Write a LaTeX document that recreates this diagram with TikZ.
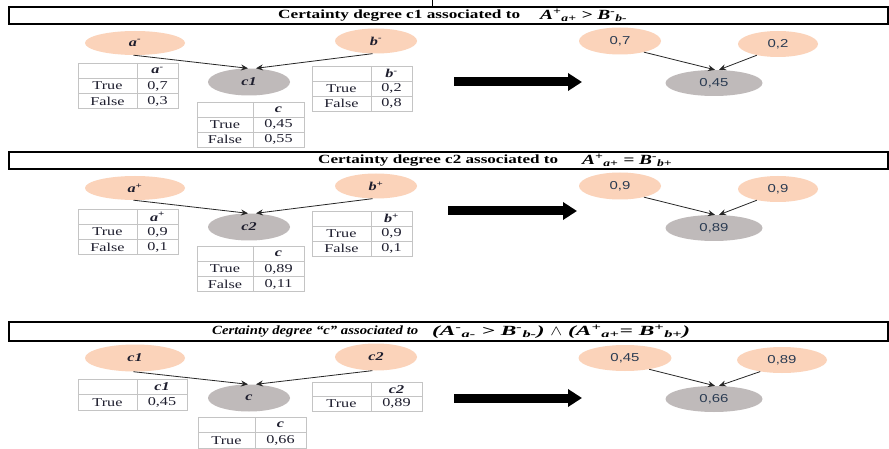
\documentclass[tikz,border=0pt]{standalone}
\usepackage{graphicx}
\usepackage{fontspec}
\setmainfont{Liberation Serif}[FakeStretch=1.35]
\newfontfamily\numfont{Liberation Sans}[FakeStretch=1.3]
\usetikzlibrary{shapes.geometric,arrows.meta}
\definecolor{peach}{HTML}{FBD3BA}
\definecolor{greyn}{HTML}{BFBABA}
\definecolor{tabgray}{HTML}{C4C4C4}
\definecolor{txtblue}{HTML}{2A3B52}
\definecolor{lbl}{HTML}{1E1E2E}
\tikzset{
  pe/.style={ellipse, fill=peach, inner sep=0pt, text=lbl,
    font=\fontsize{12}{14}\selectfont\bfseries\itshape},
  ge/.style={ellipse, fill=greyn, inner sep=0pt, text=lbl,
    font=\fontsize{12}{14}\selectfont\bfseries\itshape},
  pn/.style={ellipse, fill=peach, inner sep=0pt, text=txtblue,
    font=\fontsize{11.5}{13}\selectfont\numfont},
  gn/.style={ellipse, fill=greyn, inner sep=0pt, text=txtblue,
    font=\fontsize{11.5}{13}\selectfont\numfont},
  tabline/.style={draw=tabgray, line width=0.9pt},
  tx/.style={inner sep=0pt, text=lbl, font=\fontsize{12}{14}\selectfont},
  hd/.style={inner sep=0pt, text=lbl, font=\fontsize{12}{14}\selectfont\bfseries\itshape},
  arr/.style={draw=black!85, line width=0.8pt, -{Stealth[length=7pt,width=6pt]}},
  bigarr/.style={draw=black, line width=9pt, -{Triangle[length=14pt,width=17pt]}},
  titlebox/.style={draw=black, line width=1.1pt},
  ttlshadow/.style={draw=black!55, line width=1.2pt},
  ttl/.style={inner sep=0pt, anchor=west, text=black, font=\fontsize{12.5}{14}\selectfont\bfseries},
  ttli/.style={ttl, font=\fontsize{12.5}{14}\selectfont\bfseries\itshape},
  fml/.style={ttl, font=\fontsize{14}{16}\selectfont\bfseries\itshape},
}
% table: #1 name, #2 x0, #3 xm, #4 x1, #5 y0, #6 row height, #7 header, #8 true value, #9 false value (empty = none)
\newcommand\cpt[9]{%
  \def\ny{3}\if\relax\detokenize{#9}\relax\def\ny{2}\fi
  \draw[tabline] (#2,#5) rectangle (#4,{#5+\ny*#6});
  \draw[tabline] (#3,#5) -- (#3,{#5+\ny*#6});
  \draw[tabline] (#2,{#5+#6}) -- (#4,{#5+#6});
  \node[hd] (#1h) at ({(#3+#4)/2},{#5+#6/2}) {#7};
  \node[tx] (#1t) at ({(#2+#3)/2},{#5+1.5*#6}) {True};
  \node[tx] (#1tv) at ({(#3+#4)/2},{#5+1.5*#6}) {#8};
  \ifnum\ny=3
    \draw[tabline] (#2,{#5+2*#6}) -- (#4,{#5+2*#6});
    \node[tx] (#1f) at ({(#2+#3)/2},{#5+2.5*#6}) {False};
    \node[tx] (#1fv) at ({(#3+#4)/2},{#5+2.5*#6}) {#9};
  \fi
}
\newcommand\fitw[2]{\resizebox{#1pt}{\height}{#2}}
\begin{document}
\begin{tikzpicture}[x=1pt,y=-1pt]
\useasboundingbox[fill=white] (0,0) rectangle (889,449);

% stray tick above first title
\coordinate (tk1) at (432,0);
\coordinate (tk2) at (432,7);
\draw[black, line width=0.8pt] (tk1) -- (tk2);

% ---------------- Panel 1 ----------------
\draw[ttlshadow] (10,24.6) -- (888,24.6);
\draw[titlebox] (9,7) rectangle (888,24);
\node[ttl] (t1) at (278,15.5) {\fitw{242}{Certainty degree c1 associated to}};
\node[fml] (f1) at (540,15.5)
  {\fitw{87}{A\textsuperscript{+}\textsubscript{a+} > B\textsuperscript{-}\textsubscript{b-}}};

\node[pe, minimum width=100pt, minimum height=24pt] (a1) at (135,43) {a\textsuperscript{-}};
\node[pe, minimum width=82pt, minimum height=25pt] (b1) at (376,41) {b\textsuperscript{-}};
\node[ge, minimum width=82pt, minimum height=27pt] (c1) at (249,82) {c1};
\draw[arr] (a1.-97) -- ([xshift=-1pt]c1.north);
\draw[arr] (b1.-105) -- ([xshift=7pt]c1.north);
\cpt{ta1}{78}{137}{178}{63}{15.3}{a\textsuperscript{-}}{0,7}{0,3}
\cpt{tb1}{312}{371}{412}{66}{15}{b\textsuperscript{-}}{0,2}{0,8}
\cpt{tc1}{197}{253}{304}{102}{15}{c}{0,45}{0,55}

\coordinate (s1) at (454,82);
\coordinate (e1) at (582,82);
\draw[bigarr] (s1) -- (e1);
\node[pn, minimum width=82pt, minimum height=27pt] (r1a) at (620,41) {0,7};
\node[pn, minimum width=80pt, minimum height=26pt] (r1b) at (778,44) {0,2};
\node[gn, minimum width=97pt, minimum height=26pt] (r1c) at (714,83) {0,45};
\draw[arr] (r1a.-25) -- ([xshift=1pt]r1c.north);
\draw[arr] (r1b.-152) -- ([xshift=5pt]r1c.north);

% ---------------- Panel 2 ----------------
\draw[ttlshadow] (10,169.6) -- (888,169.6);
\draw[titlebox] (9,152) rectangle (888,169);
\node[ttl] (t2) at (318,160.5) {\fitw{240}{Certainty degree c2 associated to}};
\node[fml] (f2) at (582,160.5)
  {\fitw{90}{A\textsuperscript{+}\textsubscript{a+} = B\textsuperscript{-}\textsubscript{b+}}};

\node[pe, minimum width=100pt, minimum height=24pt] (a2) at (135,188) {a\textsuperscript{+}};
\node[pe, minimum width=82pt, minimum height=25pt] (b2) at (376,186) {b\textsuperscript{+}};
\node[ge, minimum width=82pt, minimum height=27pt] (c2) at (249,227) {c2};
\draw[arr] (a2.-97) -- ([xshift=-1pt]c2.north);
\draw[arr] (b2.-105) -- ([xshift=7pt]c2.north);
\cpt{ta2}{78}{137}{178}{209}{15.3}{a\textsuperscript{+}}{0,9}{0,1}
\cpt{tb2}{312}{371}{412}{211}{15}{b\textsuperscript{+}}{0,9}{0,1}
\cpt{tc2}{197}{253}{304}{246}{15.3}{c}{0,89}{0,11}

\coordinate (s2) at (448,211);
\coordinate (e2) at (577,211);
\draw[bigarr] (s2) -- (e2);
\node[pn, minimum width=82pt, minimum height=27pt] (r2a) at (620,186) {0,9};
\node[pn, minimum width=80pt, minimum height=26pt] (r2b) at (778,189) {0,9};
\node[gn, minimum width=97pt, minimum height=26pt] (r2c) at (714,228) {0,89};
\draw[arr] (r2a.-25) -- ([xshift=1pt]r2c.north);
\draw[arr] (r2b.-152) -- ([xshift=5pt]r2c.north);

% ---------------- Panel 3 ----------------
\draw[ttlshadow] (10,341.6) -- (888,341.6);
\draw[titlebox] (9,322) rectangle (888,341);
\node[ttli] (t3) at (212,331.5) {\fitw{206}{Certainty degree “c” associated to}};
\node[fml] (f3) at (432,331.5)
  {\fitw{258}{(A\textsuperscript{-}\textsubscript{a-} > B\textsuperscript{-}\textsubscript{b-}) $\wedge$ (A\textsuperscript{+}\textsubscript{a+}= B\textsuperscript{+}\textsubscript{b+})}};

\node[pe, minimum width=100pt, minimum height=27pt] (a3) at (135,358) {c1};
\node[pe, minimum width=82pt, minimum height=27pt] (b3) at (376,357) {c2};
\node[ge, minimum width=82pt, minimum height=27pt] (c3) at (249,398) {c};
\draw[arr] (a3.-97) -- ([xshift=-1pt]c3.north);
\draw[arr] (b3.-105) -- ([xshift=7pt]c3.north);
\cpt{ta3}{78}{137}{187}{379}{15.5}{c1}{0,45}{}
\cpt{tb3}{312}{371}{422}{382}{14.5}{c2}{0,89}{}
\cpt{tc3}{198}{255}{306}{417}{15.5}{c}{0,66}{}

\coordinate (s3) at (454,398);
\coordinate (e3) at (582,398);
\draw[bigarr] (s3) -- (e3);
\node[pn, minimum width=93pt, minimum height=26pt] (r3a) at (625,358) {0,45};
\node[pn, minimum width=90pt, minimum height=26pt] (r3b) at (782,360) {0,89};
\node[gn, minimum width=97pt, minimum height=26pt] (r3c) at (714,399) {0,66};
\draw[arr] (r3a.-25) -- ([xshift=1pt]r3c.north);
\draw[arr] (r3b.-152) -- ([xshift=5pt]r3c.north);
\end{tikzpicture}
\end{document}
